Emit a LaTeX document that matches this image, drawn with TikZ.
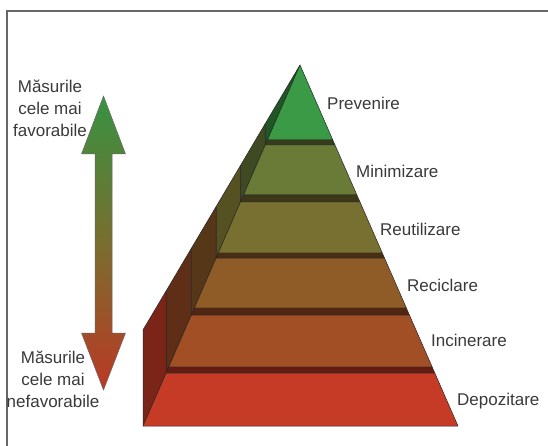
\documentclass[tikz,border=0pt]{standalone}
\usepackage{fontspec}
\setmainfont{Liberation Sans}
\usepackage{xcolor}
\usepackage{tikz}
\usetikzlibrary{calc}
\definecolor{prevc}{HTML}{3A9A45}
\definecolor{minic}{HTML}{6A7B38}
\definecolor{reutc}{HTML}{777030}
\definecolor{recic}{HTML}{8F5C28}
\definecolor{incic}{HTML}{A24F26}
\definecolor{depoc}{HTML}{C63B26}
\definecolor{txtc}{HTML}{3A3A3A}
\tikzset{
  front/.style={draw=black!85, line width=0.5pt, line join=round},
  side/.style={draw=black!85, line width=0.5pt, line join=round},
  ledge/.style={draw=black!85, line width=0.4pt, line join=round},
  tierlbl/.style={anchor=base west, inner sep=0pt, text=txtc,
    font=\fontsize{17}{20}\selectfont},
  endlbl/.style={anchor=north, align=center, inner sep=0pt, text=txtc,
    font=\fontsize{17}{22}\selectfont},
}

\begin{document}
\begin{tikzpicture}[x=1pt,y=-1pt]
  \clip (0,0) rectangle (548,446);
  \fill[white] (0,0) rectangle (548,446);
  % frame, only top and left edges show
  \draw[black!60, line width=1.5pt] (7,11) rectangle (600,500);

  % double arrow, green at the top, red at the bottom
  \path[draw=black!60, line width=0.5pt, line join=round,
        top color=prevc!95!black, bottom color=depoc!95!black, middle color=reutc!90!recic]
    (103.5,96) -- (125.5,154) -- (112,154) -- (112,333) -- (125.5,333)
    -- (103.5,390) -- (81.5,333) -- (95,333) -- (95,154) -- (81.5,154) -- cycle;
  \node[endlbl] (best) at (50,79.5) {Măsurile\\cele mai\\favorabile};
  \node[endlbl] (worst) at (53,350.5) {Măsurile\\cele mai\\nefavorabile};

  % side faces of the tiers
  \coordinate (apex) at (300,65);
  \draw[side, fill=prevc!55!black] (265.2,145) -- (265.2,123.7) -- (apex) -- cycle;
  \draw[side, fill=minic!60!black] (240.4,202) -- (240.4,165.6) -- (265.2,123.7) -- (265.2,145) -- cycle;
  \draw[side, fill=reutc!72!black] (216.1,258) -- (216.1,206.6) -- (240.4,165.6) -- (240.4,202) -- cycle;
  \draw[side, fill=recic!60!black] (191.3,315) -- (191.3,248.4) -- (216.1,206.6) -- (216.1,258) -- cycle;
  \draw[side, fill=incic!58!black] (166.1,373) -- (166.1,291) -- (191.3,248.4) -- (191.3,315) -- cycle;
  \draw[side, fill=depoc!62!black] (143,426) -- (143,329.9) -- (166.1,291) -- (166.1,373) -- cycle;

  % front faces and ledges
  \draw[front, fill=prevc] (apex) -- (332.8,140) -- (267.4,140) -- cycle;
  \draw[ledge, fill=minic!50!black] (267.4,140) -- (332.8,140) -- (335,145) -- (265.2,145) -- cycle;
  \draw[front, fill=minic] (265.2,145) -- (335,145) -- (356.9,195) -- (243.5,195) -- cycle;
  \draw[ledge, fill=reutc!50!black] (243.5,195) -- (356.9,195) -- (360,202) -- (240.4,202) -- cycle;
  \draw[front, fill=reutc] (240.4,202) -- (360,202) -- (382.3,253) -- (218.2,253) -- cycle;
  \draw[ledge, fill=recic!50!black] (218.2,253) -- (382.3,253) -- (384.5,258) -- (216.1,258) -- cycle;
  \draw[front, fill=recic] (216.1,258) -- (384.5,258) -- (406.4,308) -- (194.3,308) -- cycle;
  \draw[ledge, fill=incic!50!black] (194.3,308) -- (406.4,308) -- (409.4,315) -- (191.3,315) -- cycle;
  \draw[front, fill=incic] (191.3,315) -- (409.4,315) -- (432.2,367) -- (168.7,367) -- cycle;
  \draw[ledge, fill=depoc!50!black] (168.7,367) -- (432.2,367) -- (434.8,373) -- (166.1,373) -- cycle;
  \draw[front, fill=depoc] (166.1,373) -- (434.8,373) -- (458,426) -- (143,426) -- cycle;

  % tier names
  \node[tierlbl] (prev) at (327,110) {Prevenire};
  \node[tierlbl] (mini) at (356,178) {Minimizare};
  \node[tierlbl] (reut) at (380,236) {Reutilizare};
  \node[tierlbl] (reci) at (407,291) {Reciclare};
  \node[tierlbl] (inci) at (431,346) {Incinerare};
  \node[tierlbl] (depo) at (457,405) {Depozitare};
\end{tikzpicture}
\end{document}
